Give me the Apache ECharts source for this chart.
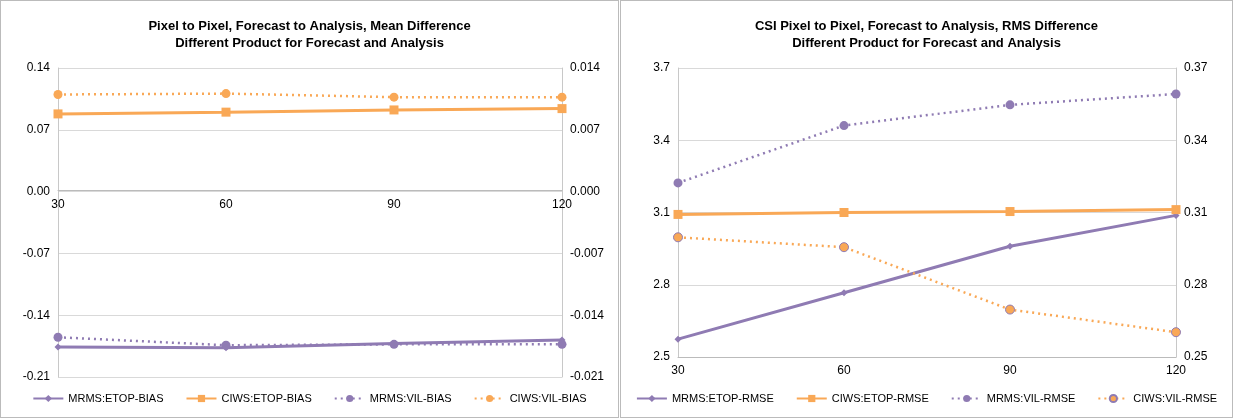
<!DOCTYPE html>
<html><head><meta charset="utf-8">
<script src="https://cdn.jsdelivr.net/npm/echarts@6/dist/echarts.min.js"></script>
<style>
body{margin:0;background:#fff;font-family:"Liberation Sans",sans-serif}
.p{position:absolute;top:0;height:418px;border:1px solid #bbb;box-sizing:border-box}
</style></head><body>
<div id="c1" class="p" style="left:0;width:619px"></div>
<div id="c2" class="p" style="left:620px;width:613px"></div>
<script>
const categories = ['30','60','90','120'];
// Left panel (Mean Difference)
const mrmsEtopBias = [-0.176, -0.177, -0.172, -0.168];
const ciwsEtopBias = [0.088, 0.090, 0.0925, 0.094];
const mrmsVilBias = [-0.0165, -0.0174, -0.0173, -0.0173];
const ciwsVilBias = [0.0110, 0.0111, 0.0107, 0.0107];
// Right panel (RMS Difference)
const mrmsEtopRmse = [2.574, 2.767, 2.960, 3.088];
const ciwsEtopRmse = [3.092, 3.100, 3.104, 3.112];
const mrmsVilRmse = [0.3223, 0.3461, 0.3547, 0.3592];
const ciwsVilRmse = [0.2997, 0.2956, 0.2697, 0.2603];

const PURPLE = '#8f7bb3', ORANGE = '#f9a856';
const font = '"Liberation Sans", sans-serif';
function ser(name, data, yi, color, dotted, symbol, border) {
  return {name, type:'line', data, yAxisIndex:yi, symbol, symbolSize: symbol==='diamond'?7:9,
    lineStyle:{color, width: dotted?2.5:3, type: dotted?[2,4]:'solid'},
    itemStyle:{color, borderColor: border||color, borderWidth: border?1:0}};
}
function make(el, title, lmin, lmax, li, rmin, rmax, ri, series, ldec, rdec, bottom) {
  const c = echarts.init(document.getElementById(el));
  const ax = (min,max,interval,dec,pos)=>({type:'value', position:pos, min, max, interval,
    axisLine:{show:true, lineStyle:{color:'#c8c8c8'}}, axisTick:{show:false},
    splitLine:{show: pos==='left', lineStyle:{color:'#d9d9d9'}},
    axisLabel:{fontFamily:font, fontSize:12, color:'#000', formatter:v=>v.toFixed(dec)}});
  const plotH = 418 - 67 - bottom;
  const offset = (lmin < 0 && lmax > 0) ? -plotH * (-lmin) / (lmax - lmin) : 0;
  c.setOption({
    animation:false,
    title:{text:title, left:'center', top:12, textStyle:{fontFamily:font, fontSize:13, fontWeight:'bold', color:'#000', lineHeight:17}},
    grid:{left:57, right:56, top:67, bottom},
    legend:{bottom:8, itemWidth:30, itemHeight:9, itemGap:22, textStyle:{fontFamily:font, fontSize:11, color:'#000'}},
    xAxis:{type:'category', data:categories, boundaryGap:false, offset,
      axisLine:{onZero:false, lineStyle:{color:'#bbb'}}, axisTick:{show:false},
      splitLine:{show:false},
      axisLabel:{fontFamily:font, fontSize:12, color:'#000', margin:8}},
    yAxis:[ax(lmin,lmax,li,ldec,'left'), ax(rmin,rmax,ri,rdec,'right')],
    series
  });
}
make('c1','Pixel to Pixel, Forecast to Analysis, Mean Difference\nDifferent Product for Forecast and Analysis',
  -0.21, 0.14, 0.07, -0.021, 0.014, 0.007, [
  ser('MRMS:ETOP-BIAS', mrmsEtopBias, 0, PURPLE, false, 'diamond'),
  ser('CIWS:ETOP-BIAS', ciwsEtopBias, 0, ORANGE, false, 'rect'),
  ser('MRMS:VIL-BIAS', mrmsVilBias, 1, PURPLE, true, 'circle'),
  ser('CIWS:VIL-BIAS', ciwsVilBias, 1, ORANGE, true, 'circle')
], 2, 3, 40);
make('c2','CSI Pixel to Pixel, Forecast to Analysis, RMS Difference\nDifferent Product for Forecast and Analysis',
  2.5, 3.7, 0.3, 0.25, 0.37, 0.03, [
  ser('MRMS:ETOP-RMSE', mrmsEtopRmse, 0, PURPLE, false, 'diamond'),
  ser('CIWS:ETOP-RMSE', ciwsEtopRmse, 0, ORANGE, false, 'rect'),
  ser('MRMS:VIL-RMSE', mrmsVilRmse, 1, PURPLE, true, 'circle'),
  ser('CIWS:VIL-RMSE', ciwsVilRmse, 1, ORANGE, true, 'circle', PURPLE)
], 1, 2, 60);
</script></body></html>
